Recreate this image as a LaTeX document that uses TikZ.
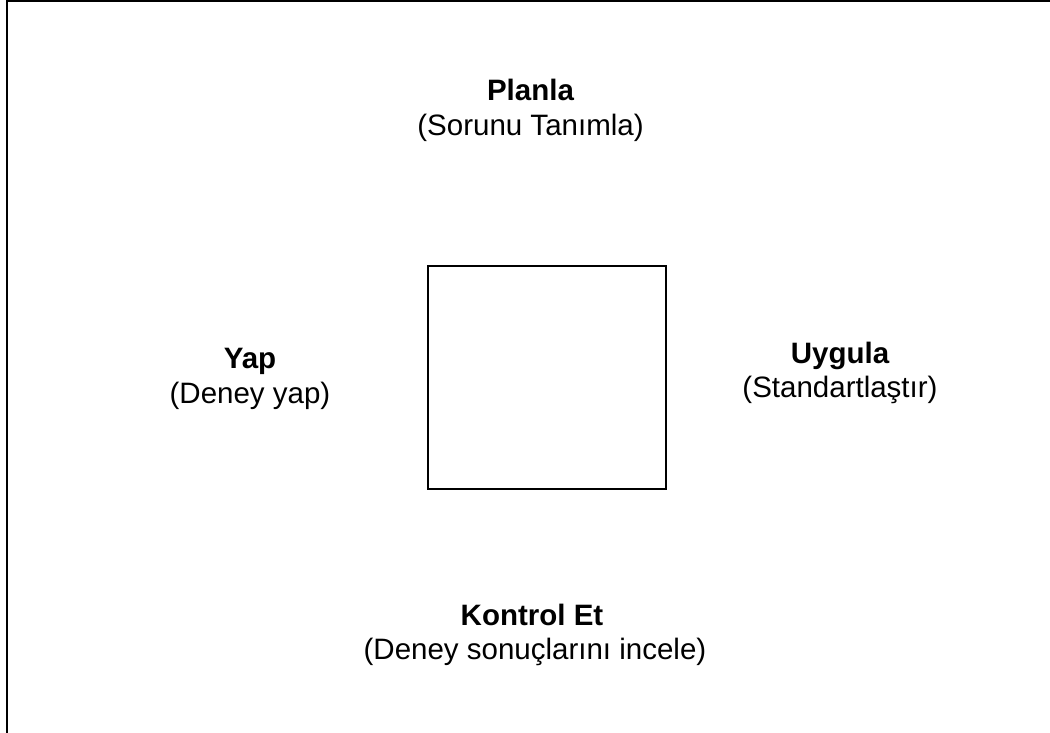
\documentclass[tikz,border=0pt]{standalone}
\usepackage{fontspec}
\setmainfont{Liberation Sans}
\begin{document}
\begin{tikzpicture}[x=1pt,y=-1pt,
  title/.style={font=\fontsize{29.5}{34}\selectfont\bfseries, anchor=base, inner sep=0pt},
  sub/.style={font=\fontsize{29.5}{34}\selectfont, anchor=base, inner sep=0pt},
  frame/.style={line width=2pt}]
\useasboundingbox (0,0) rectangle (1050,732);
\draw[frame] (7,733) -- (7,0.8) -- (1051,0.8);
\node[draw, line width=2pt, minimum width=238pt, minimum height=223pt, inner sep=0pt] (box) at (546.5,377) {};
\node[title] (planla) at (530.5,100) {Planla};
\node[sub] (planlasub) at (530.5,135) {(Sorunu Tanımla)};
\node[title] (yap) at (250,368) {Yap};
\node[sub] (yapsub) at (250,403) {(Deney yap)};
\node[title] (uygula) at (840,363) {Uygula};
\node[sub] (uygulasub) at (840,397) {(Standartlaştır)};
\node[title] (kontrol) at (532,625) {Kontrol Et};
\node[sub] (kontrolsub) at (535,659) {(Deney sonuçlarını incele)};
\end{tikzpicture}
\end{document}
